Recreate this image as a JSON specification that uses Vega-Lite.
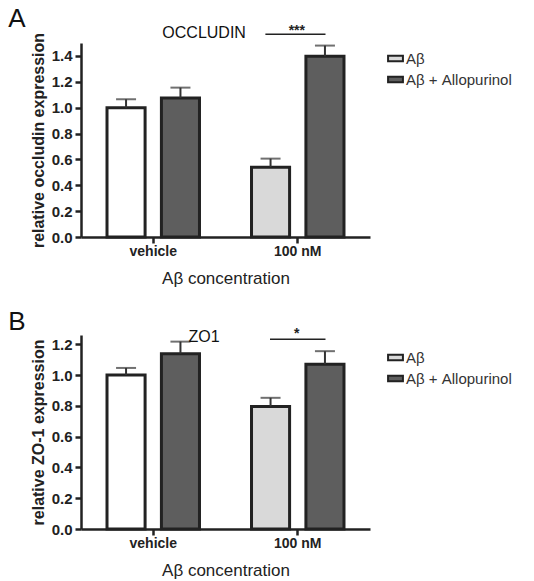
{
  "$schema": "https://vega.github.io/schema/vega-lite/v6.json",
  "padding": {"left": 8, "top": 6, "right": 5, "bottom": 2},
  "background": "white",
  "config": {
    "font": "Liberation Sans",
    "view": {"stroke": null},
    "axis": {
      "domainColor": "#222", "domainWidth": 2.5, "tickColor": "#222", "tickWidth": 2.5, "tickSize": 6,
      "labelFontWeight": "bold", "labelColor": "#222", "grid": false, "labelOverlap": false,
      "titleColor": "#222"
    },
    "axisY": {"labelFontSize": 15, "titleFontSize": 16, "titleFontWeight": "bold", "titlePadding": 5, "labelPadding": 3},
    "axisX": {"labelFontSize": 14, "labelAngle": 0, "labelPadding": 1, "titleFontSize": 17, "titleFontWeight": "normal", "titlePadding": 12},
    "legend": {
      "labelFontSize": 15, "labelColor": "#333", "symbolType": "M-1.35,-0.5H1.35V0.5H-1.35Z",
      "symbolSize": 121, "symbolStrokeColor": "#222", "symbolStrokeWidth": 2, "symbolOpacity": 1,
      "rowPadding": 5, "labelOffset": 3
    },
    "title": {"fontSize": 26, "fontWeight": "normal", "anchor": "start", "frame": "bounds", "color": "#111", "dx": -22, "offset": -8}
  },
  "resolve": {"legend": {"color": "independent"}, "scale": {"color": "independent"}},
  "spacing": 23,
  "vconcat": [
    {
      "title": "A",
      "width": 289, "height": 194,
      "layer": [
        {
          "data": {"values": [
            {"conc": "vehicle", "treat": "none", "series": "vehicle", "value": 1.0, "upper": 1.065},
            {"conc": "vehicle", "treat": "allopurinol", "series": "Aβ + Allopurinol", "value": 1.075, "upper": 1.155},
            {"conc": "100 nM", "treat": "none", "series": "Aβ", "value": 0.54, "upper": 0.606},
            {"conc": "100 nM", "treat": "allopurinol", "series": "Aβ + Allopurinol", "value": 1.397, "upper": 1.48}
          ]},
          "layer": [
            {
              "mark": {"type": "bar", "stroke": "#222", "strokeWidth": 3},
              "encoding": {
                "x": {"field": "conc", "type": "nominal", "sort": ["vehicle", "100 nM"],
                  "scale": {"paddingInner": 0.36, "paddingOuter": 0.18},
                  "title": "Aβ concentration"},
                "xOffset": {"field": "treat", "type": "nominal", "sort": ["none", "allopurinol"], "scale": {"paddingInner": 0.3, "paddingOuter": 0}},
                "y": {"field": "value", "type": "quantitative", "scale": {"domain": [0, 1.5], "nice": false},
                  "axis": {"values": [0, 0.2, 0.4, 0.6, 0.8, 1.0, 1.2, 1.4], "format": ".1f"},
                  "title": "relative occludin expression"},
                "color": {"field": "series", "type": "nominal",
                  "scale": {"domain": ["vehicle", "Aβ", "Aβ + Allopurinol"], "range": ["#ffffff", "#d9d9d9", "#5e5e5e"]},
                  "legend": {"values": ["Aβ", "Aβ + Allopurinol"], "title": null, "padding": 8, "offset": 10}}
              }
            },
            {
              "mark": {"type": "rule", "color": "#333", "strokeWidth": 2},
              "encoding": {
                "x": {"field": "conc", "type": "nominal", "sort": ["vehicle", "100 nM"]},
                "xOffset": {"field": "treat", "type": "nominal", "sort": ["none", "allopurinol"]},
                "y": {"field": "value", "type": "quantitative", "axis": {"values": [0, 0.2, 0.4, 0.6, 0.8, 1.0, 1.2, 1.4], "format": ".1f"}, "title": "relative occludin expression"},
                "y2": {"field": "upper"}
              }
            },
            {
              "mark": {"type": "tick", "color": "#333", "thickness": 2, "size": 20},
              "encoding": {
                "x": {"field": "conc", "type": "nominal", "sort": ["vehicle", "100 nM"]},
                "xOffset": {"field": "treat", "type": "nominal", "sort": ["none", "allopurinol"]},
                "y": {"field": "upper", "type": "quantitative", "axis": {"values": [0, 0.2, 0.4, 0.6, 0.8, 1.0, 1.2, 1.4], "format": ".1f"}, "title": "relative occludin expression"}
              }
            }
          ]
        },
        {
          "data": {"values": [{"conc": "100 nM", "y": 1.568, "stars": "***"}]},
          "layer": [
            {
              "mark": {"type": "rule", "color": "#222", "strokeWidth": 1.5},
              "encoding": {
                "x": {"field": "conc", "type": "nominal", "sort": ["vehicle", "100 nM"], "bandPosition": 0.15},
                "x2": {"field": "conc", "bandPosition": 0.8},
                "y": {"field": "y", "type": "quantitative", "axis": {"values": [0, 0.2, 0.4, 0.6, 0.8, 1.0, 1.2, 1.4], "format": ".1f"}, "title": "relative occludin expression"}
              }
            },
            {
              "mark": {"type": "text", "fontSize": 14, "fontWeight": "bold", "color": "#222", "baseline": "bottom", "dy": 4},
              "encoding": {
                "x": {"field": "conc", "type": "nominal", "sort": ["vehicle", "100 nM"], "bandPosition": 0.49},
                "y": {"field": "y", "type": "quantitative", "axis": {"values": [0, 0.2, 0.4, 0.6, 0.8, 1.0, 1.2, 1.4], "format": ".1f"}, "title": "relative occludin expression"},
                "text": {"field": "stars"}
              }
            }
          ]
        },
        {
          "data": {"values": [{"conc": "vehicle", "y": 1.575, "label": "OCCLUDIN"}]},
          "mark": {"type": "text", "fontSize": 16, "color": "#111", "baseline": "middle"},
          "encoding": {
            "x": {"field": "conc", "type": "nominal", "sort": ["vehicle", "100 nM"], "bandPosition": 1.05},
            "y": {"field": "y", "type": "quantitative", "axis": {"values": [0, 0.2, 0.4, 0.6, 0.8, 1.0, 1.2, 1.4], "format": ".1f"}, "title": "relative occludin expression"},
            "text": {"field": "label"}
          }
        }
      ]
    },
    {
      "title": "B",
      "width": 289, "height": 194,
      "layer": [
        {
          "data": {"values": [
            {"conc": "vehicle", "treat": "none", "series": "vehicle", "value": 1.0, "upper": 1.046},
            {"conc": "vehicle", "treat": "allopurinol", "series": "Aβ + Allopurinol", "value": 1.139, "upper": 1.217},
            {"conc": "100 nM", "treat": "none", "series": "Aβ", "value": 0.796, "upper": 0.852},
            {"conc": "100 nM", "treat": "allopurinol", "series": "Aβ + Allopurinol", "value": 1.07, "upper": 1.155}
          ]},
          "layer": [
            {
              "mark": {"type": "bar", "stroke": "#222", "strokeWidth": 3},
              "encoding": {
                "x": {"field": "conc", "type": "nominal", "sort": ["vehicle", "100 nM"],
                  "scale": {"paddingInner": 0.36, "paddingOuter": 0.18},
                  "title": "Aβ concentration"},
                "xOffset": {"field": "treat", "type": "nominal", "sort": ["none", "allopurinol"], "scale": {"paddingInner": 0.3, "paddingOuter": 0}},
                "y": {"field": "value", "type": "quantitative", "scale": {"domain": [0, 1.26], "nice": false},
                  "axis": {"values": [0, 0.2, 0.4, 0.6, 0.8, 1.0, 1.2], "format": ".1f"},
                  "title": "relative ZO-1 expression"},
                "color": {"field": "series", "type": "nominal",
                  "scale": {"domain": ["vehicle", "Aβ", "Aβ + Allopurinol"], "range": ["#ffffff", "#d9d9d9", "#5e5e5e"]},
                  "legend": {"values": ["Aβ", "Aβ + Allopurinol"], "title": null, "padding": 15, "offset": 3}}
              }
            },
            {
              "mark": {"type": "rule", "color": "#333", "strokeWidth": 2},
              "encoding": {
                "x": {"field": "conc", "type": "nominal", "sort": ["vehicle", "100 nM"]},
                "xOffset": {"field": "treat", "type": "nominal", "sort": ["none", "allopurinol"]},
                "y": {"field": "value", "type": "quantitative", "axis": {"values": [0, 0.2, 0.4, 0.6, 0.8, 1.0, 1.2], "format": ".1f"}, "title": "relative ZO-1 expression"},
                "y2": {"field": "upper"}
              }
            },
            {
              "mark": {"type": "tick", "color": "#333", "thickness": 2, "size": 20},
              "encoding": {
                "x": {"field": "conc", "type": "nominal", "sort": ["vehicle", "100 nM"]},
                "xOffset": {"field": "treat", "type": "nominal", "sort": ["none", "allopurinol"]},
                "y": {"field": "upper", "type": "quantitative", "axis": {"values": [0, 0.2, 0.4, 0.6, 0.8, 1.0, 1.2], "format": ".1f"}, "title": "relative ZO-1 expression"}
              }
            }
          ]
        },
        {
          "data": {"values": [{"conc": "100 nM", "y": 1.232, "stars": "*"}]},
          "layer": [
            {
              "mark": {"type": "rule", "color": "#222", "strokeWidth": 1.5},
              "encoding": {
                "x": {"field": "conc", "type": "nominal", "sort": ["vehicle", "100 nM"], "bandPosition": 0.2},
                "x2": {"field": "conc", "bandPosition": 0.8},
                "y": {"field": "y", "type": "quantitative", "axis": {"values": [0, 0.2, 0.4, 0.6, 0.8, 1.0, 1.2], "format": ".1f"}, "title": "relative ZO-1 expression"}
              }
            },
            {
              "mark": {"type": "text", "fontSize": 14, "fontWeight": "bold", "color": "#222", "baseline": "bottom", "dy": 2},
              "encoding": {
                "x": {"field": "conc", "type": "nominal", "sort": ["vehicle", "100 nM"], "bandPosition": 0.49},
                "y": {"field": "y", "type": "quantitative", "axis": {"values": [0, 0.2, 0.4, 0.6, 0.8, 1.0, 1.2], "format": ".1f"}, "title": "relative ZO-1 expression"},
                "text": {"field": "stars"}
              }
            }
          ]
        },
        {
          "data": {"values": [{"conc": "vehicle", "y": 1.245, "label": "ZO1"}]},
          "mark": {"type": "text", "fontSize": 16, "color": "#111", "baseline": "middle"},
          "encoding": {
            "x": {"field": "conc", "type": "nominal", "sort": ["vehicle", "100 nM"], "bandPosition": 1.05},
            "y": {"field": "y", "type": "quantitative", "axis": {"values": [0, 0.2, 0.4, 0.6, 0.8, 1.0, 1.2], "format": ".1f"}, "title": "relative ZO-1 expression"},
            "text": {"field": "label"}
          }
        }
      ]
    }
  ]
}
